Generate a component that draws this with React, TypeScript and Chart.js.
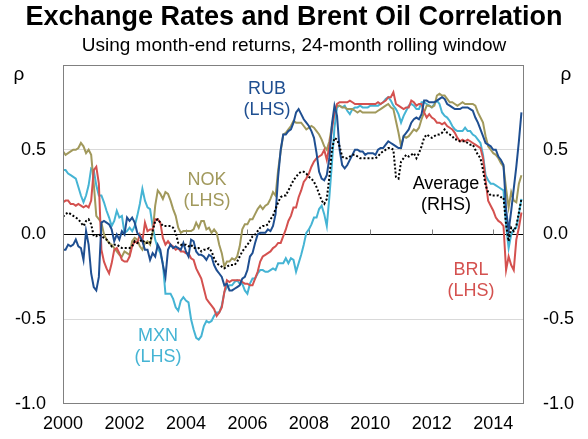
import React, { useEffect, useRef } from "react";
import { Chart, registerables } from "chart.js";

Chart.register(...registerables);

// ---------- data (monthly, Jan 2000 onwards) ----------
const startYear = 2000;
const yearTicks = [2000, 2002, 2004, 2006, 2008, 2010, 2012, 2014];
const valueTicks = [-1, -0.5, 0, 0.5, 1];

const rub = [
  -0.09, -0.09, -0.06, -0.07, -0.06, -0.03, -0.07, -0.08, -0.15, 0.02,
  -0.06, -0.23, -0.31, -0.33, -0.25, 0.07, 0.08, 0.07, 0.06, 0.03,
  -0.04, 0.0, -0.03, 0.02, 0.0, 0.1, 0.08, 0.1, 0.07, 0.01,
  -0.01, -0.04, -0.09, -0.09, -0.15, -0.11, -0.13, -0.06, -0.09, -0.18,
  -0.25, -0.09, -0.06, -0.08, -0.07, -0.08, -0.09, -0.05, -0.1, -0.13,
  -0.03, -0.04, -0.1, -0.12, -0.12, -0.13, -0.15, -0.12, -0.13, -0.18,
  -0.21, -0.23, -0.25, -0.3, -0.29, -0.33, -0.33, -0.32, -0.31, -0.3,
  -0.26, -0.25, -0.21, -0.13, -0.11, -0.05, 0.0, 0.01, 0.01, 0.01,
  0.03, 0.02, 0.05, 0.12, 0.34, 0.5, 0.59, 0.59, 0.61, 0.62,
  0.66, 0.72, 0.74, 0.71, 0.68, 0.66, 0.64, 0.61, 0.57, 0.48,
  0.37, 0.33, 0.32, 0.35, 0.45, 0.65, 0.76, 0.7, 0.5, 0.41,
  0.39, 0.41, 0.44, 0.47, 0.5, 0.5, 0.49, 0.49, 0.47, 0.48,
  0.48, 0.48, 0.47, 0.5, 0.51, 0.51, 0.53, 0.55, 0.54, 0.53,
  0.52, 0.51, 0.51, 0.58, 0.6, 0.62, 0.66, 0.68, 0.69, 0.68,
  0.71, 0.79, 0.79, 0.78, 0.78, 0.78, 0.79, 0.8, 0.81, 0.8,
  0.77, 0.76, 0.75, 0.74, 0.74, 0.74, 0.75, 0.75, 0.75, 0.74,
  0.73, 0.69, 0.66, 0.62, 0.58, 0.54, 0.53, 0.52, 0.5, 0.5,
  0.46, 0.44, 0.41, 0.15, 0.02, 0.14, 0.27, 0.4, 0.55, 0.72,
];

const nok = [
  0.49, 0.47, 0.48, 0.49, 0.5, 0.5, 0.51, 0.54, 0.52, 0.48,
  0.5, 0.47, 0.3, 0.11, 0.09, 0.07, 0.0, -0.03, -0.05, -0.06,
  -0.08, -0.1, -0.12, -0.13, -0.1, -0.11, -0.12, -0.04, -0.02, -0.03,
  -0.07, -0.09, -0.05, -0.04, -0.06, 0.01, 0.17, 0.26, 0.24, 0.21,
  0.25, 0.24, 0.2, 0.15, 0.11, 0.04, 0.01, 0.02, 0.02, 0.02,
  0.02, 0.03, 0.07, 0.04, 0.08, 0.08, 0.03, 0.04, 0.01, 0.03,
  0.01, -0.06, -0.11, -0.19, -0.16, -0.16, -0.14, -0.15, -0.13, -0.07,
  0.03, 0.06, 0.06, 0.09, 0.09, 0.12, 0.15, 0.17, 0.15, 0.17,
  0.18, 0.21, 0.25, 0.23, 0.38, 0.49, 0.59, 0.6, 0.62, 0.64,
  0.67, 0.66, 0.66, 0.66, 0.64, 0.62, 0.63, 0.64, 0.63, 0.61,
  0.59, 0.56, 0.52, 0.5, 0.55, 0.64, 0.72, 0.76, 0.76, 0.75,
  0.75, 0.74, 0.74, 0.74, 0.73, 0.72, 0.73, 0.72, 0.72, 0.72,
  0.72, 0.72, 0.72, 0.73, 0.74, 0.75, 0.76, 0.77, 0.75, 0.74,
  0.67, 0.6, 0.52, 0.58, 0.57, 0.58, 0.6, 0.62, 0.61, 0.63,
  0.68, 0.72, 0.76, 0.76, 0.75, 0.76, 0.82, 0.83, 0.82, 0.82,
  0.8, 0.78, 0.78, 0.77, 0.76, 0.77, 0.78, 0.77, 0.77, 0.77,
  0.77, 0.76, 0.72, 0.69, 0.66, 0.58, 0.52, 0.5, 0.48, 0.47,
  0.45, 0.42, 0.4, 0.27, 0.16, 0.25, 0.2, 0.19, 0.3, 0.35,
];

const mxn = [
  0.38, 0.38, 0.36, 0.35, 0.34, 0.33, 0.28, 0.23, 0.19, 0.23,
  0.29, 0.39, 0.38, 0.29, 0.23, 0.23, 0.19, 0.14, 0.1, 0.05,
  0.08, 0.14, 0.1, 0.11, 0.01, 0.02, 0.04, 0.02, 0.05, 0.11,
  0.18, 0.27, 0.2, 0.16, 0.15, 0.05, -0.03, -0.08, -0.11, -0.17,
  -0.35, -0.35, -0.35, -0.38, -0.43, -0.45, -0.39, -0.37, -0.39, -0.4,
  -0.5, -0.56, -0.61, -0.62, -0.6, -0.54, -0.51, -0.52, -0.51, -0.48,
  -0.46, -0.46, -0.42, -0.34, -0.31, -0.3, -0.3, -0.28, -0.27, -0.29,
  -0.29, -0.33, -0.35, -0.29, -0.26, -0.26, -0.23, -0.21, -0.21, -0.22,
  -0.22, -0.21, -0.2, -0.21, -0.17, -0.17, -0.17, -0.14, -0.17, -0.14,
  -0.15, -0.22, -0.17, -0.12, -0.06, 0.01, 0.03, 0.06, 0.1, 0.1,
  0.15, 0.17, 0.12, 0.05, 0.22, 0.42, 0.63, 0.75, 0.76, 0.75,
  0.76, 0.73, 0.71, 0.74, 0.75, 0.75, 0.76, 0.75, 0.75, 0.75,
  0.76, 0.76, 0.76, 0.76, 0.77, 0.78, 0.8, 0.81, 0.79, 0.76,
  0.74, 0.71, 0.66, 0.7, 0.73, 0.76, 0.77, 0.76, 0.74, 0.74,
  0.78, 0.78, 0.77, 0.76, 0.75, 0.77, 0.79, 0.77, 0.72, 0.7,
  0.69, 0.67, 0.64, 0.62, 0.61, 0.61, 0.61, 0.63, 0.61, 0.61,
  0.59, 0.58, 0.56, 0.54, 0.47, 0.35, 0.32, 0.3, 0.3, 0.29,
  0.28, 0.27, 0.26, 0.05, -0.08, 0.0, 0.03, 0.04, 0.12, 0.21,
];

const brl = [
  0.19, 0.2, 0.2, 0.18, 0.18, 0.17, 0.18, 0.17, 0.16, 0.17,
  0.16, 0.2, 0.38, 0.4, 0.3, -0.09, -0.16, -0.2, -0.23, -0.17,
  -0.09, -0.08, -0.11, -0.15, -0.16, -0.16, -0.13, -0.07, -0.04, -0.05,
  0.0, -0.04, 0.07, 0.02, 0.03, 0.03, 0.09, 0.09, 0.07, -0.02,
  -0.06, -0.04, -0.06, -0.07, -0.09, -0.08, -0.1, -0.1, -0.11, -0.11,
  -0.14, -0.15, -0.2, -0.23, -0.26, -0.32, -0.38, -0.4, -0.42, -0.44,
  -0.48, -0.46, -0.43, -0.34, -0.27, -0.28, -0.27, -0.27, -0.27, -0.27,
  -0.28, -0.29, -0.29, -0.3, -0.3, -0.26, -0.22, -0.16, -0.13, -0.12,
  -0.11, -0.1, -0.08, -0.07, -0.05, -0.05, -0.01, 0.03, 0.08, 0.11,
  0.16, 0.16, 0.22, 0.26, 0.31, 0.33, 0.36, 0.4, 0.43, 0.45,
  0.46, 0.47, 0.5, 0.44, 0.52, 0.62, 0.72, 0.77, 0.78, 0.78,
  0.78, 0.78, 0.79, 0.78, 0.77, 0.77, 0.77, 0.77, 0.77, 0.77,
  0.77, 0.77, 0.77, 0.78, 0.77, 0.78, 0.79, 0.81, 0.81, 0.84,
  0.77, 0.76, 0.75, 0.74, 0.75, 0.75, 0.79, 0.78, 0.76, 0.77,
  0.77, 0.72, 0.69, 0.71, 0.69, 0.68, 0.66, 0.66, 0.65, 0.66,
  0.64, 0.63, 0.62, 0.6, 0.57, 0.55, 0.56, 0.55, 0.56, 0.55,
  0.54, 0.53, 0.52, 0.51, 0.45, 0.32, 0.2, 0.17, 0.14, 0.1,
  0.08, 0.07, 0.05, -0.21, -0.13, -0.18, -0.21, -0.03, 0.04, 0.13,
];

const average = [
  0.105, 0.12, 0.13, 0.12, 0.11, 0.1, 0.09, 0.07, 0.05, 0.08,
  0.09, 0.06, -0.01, -0.01, 0.0, -0.01, -0.02, -0.03, -0.05, -0.07,
  -0.06, -0.06, -0.07, -0.08, -0.08, -0.08, -0.08, -0.07, -0.04, -0.05,
  -0.04, -0.03, -0.05, -0.05, -0.05, 0.02, 0.08, 0.09, 0.07, 0.05,
  0.05, 0.05, 0.05, 0.04, 0.01, -0.05, -0.06, -0.06, -0.06, -0.07,
  -0.06, -0.08, -0.08, -0.08, -0.1, -0.09, -0.09, -0.08, -0.1, -0.14,
  -0.17, -0.18, -0.19, -0.2, -0.19, -0.18, -0.18, -0.18, -0.16, -0.13,
  -0.1, -0.08, -0.06, -0.04, -0.01, 0.0, 0.02, 0.04, 0.05, 0.05,
  0.06, 0.09, 0.11, 0.15, 0.19, 0.22, 0.23, 0.23, 0.26, 0.29,
  0.32, 0.34, 0.36, 0.37, 0.37, 0.36, 0.34, 0.33, 0.31, 0.28,
  0.24, 0.2, 0.18, 0.21, 0.34, 0.5, 0.57, 0.56, 0.52, 0.46,
  0.45, 0.45, 0.46, 0.47, 0.47, 0.46, 0.45, 0.45, 0.45, 0.45,
  0.45, 0.45, 0.45, 0.46, 0.48, 0.49, 0.5, 0.51, 0.51, 0.5,
  0.34, 0.33, 0.43, 0.45, 0.47, 0.46, 0.47, 0.48, 0.45, 0.48,
  0.52, 0.57, 0.59, 0.58, 0.57, 0.58, 0.59, 0.59, 0.6, 0.62,
  0.6, 0.59, 0.58, 0.56, 0.56, 0.55, 0.55, 0.55, 0.54, 0.53,
  0.53, 0.5, 0.47, 0.45, 0.38, 0.29, 0.25, 0.23, 0.23, 0.23,
  0.23, 0.22, 0.22, 0.06, -0.04, 0.04, 0.02, 0.05, 0.13, 0.21,
];

// month positions in decimal years
const months = rub.map((_, i) => startYear + i / 12);

// ---------- styling ----------
const FONT = "'Liberation Sans', Arial, Helvetica, sans-serif";
const C_RUB = "#1f4f91";
const C_NOK = "#a1995c";
const C_MXN = "#45b4d4";
const C_BRL = "#d4514f";
const C_AVG = "#000000";

const W = 588;
const H = 439;

const labels = [
  { lines: ["RUB", "(LHS)"], x: 267, y: 89, color: C_RUB },
  { lines: ["NOK", "(LHS)"], x: 207, y: 180, color: C_NOK },
  { lines: ["Average", "(RHS)"], x: 446, y: 184, color: "#000" },
  { lines: ["BRL", "(LHS)"], x: 471, y: 270, color: C_BRL },
  { lines: ["MXN", "(LHS)"], x: 158, y: 336, color: C_MXN },
];

const toPoints = (vals: number[]) => vals.map((v, i) => ({ x: months[i], y: v }));

const overlayPlugin = {
  id: "overlay",
  beforeDatasetsDraw(chart: any) {
    const { ctx, scales } = chart;
    const y0 = scales.y.getPixelForValue(0);
    ctx.save();
    ctx.strokeStyle = "#7f7f7f";
    ctx.lineWidth = 1;
    for (const yr of yearTicks) {
      if (yr === startYear) continue;
      const x = Math.round(scales.x.getPixelForValue(yr)) + 0.5;
      ctx.beginPath();
      ctx.moveTo(x, y0);
      ctx.lineTo(x, y0 - 5);
      ctx.stroke();
    }
    ctx.restore();
  },
  afterDatasetsDraw(chart: any) {
    const { ctx, chartArea } = chart;
    ctx.save();
    ctx.strokeStyle = "#808080";
    ctx.lineWidth = 1;
    ctx.strokeRect(
      Math.round(chartArea.left) + 0.5,
      Math.round(chartArea.top) + 0.5,
      Math.round(chartArea.right - chartArea.left) - 1,
      Math.round(chartArea.bottom - chartArea.top) - 1
    );
    ctx.restore();
  },
  afterDraw(chart: any) {
    const { ctx } = chart;
    ctx.save();
    ctx.textAlign = "center";
    ctx.textBaseline = "middle";
    ctx.fillStyle = "#000";
    ctx.font = `bold 27px ${FONT}`;
    ctx.fillText("Exchange Rates and Brent Oil Correlation", W / 2, 18);
    ctx.font = `19px ${FONT}`;
    ctx.fillText("Using month-end returns, 24-month rolling window", W / 2, 46);
    ctx.textBaseline = "alphabetic";
    ctx.fillText("ρ", 19, 80);
    ctx.fillText("ρ", 566, 80);
    ctx.textBaseline = "middle";
    ctx.font = `18px ${FONT}`;
    for (const l of labels) {
      ctx.fillStyle = l.color;
      l.lines.forEach((t, i) => ctx.fillText(t, l.x, l.y + i * 21));
    }
    ctx.restore();
  },
};

export default function App() {
  const ref = useRef<HTMLCanvasElement | null>(null);

  useEffect(() => {
    if (!ref.current) return;
    const tickFont = { family: FONT, size: 18 };
    const chart = new Chart(ref.current, {
      type: "line",
      data: {
        datasets: [
          { label: "Average (RHS)", data: toPoints(average), yAxisID: "y2", borderColor: C_AVG, borderWidth: 2, borderDash: [2, 2], pointRadius: 0, tension: 0 },
          { label: "RUB (LHS)", data: toPoints(rub), yAxisID: "y", borderColor: C_RUB, borderWidth: 2, pointRadius: 0, tension: 0 },
          { label: "BRL (LHS)", data: toPoints(brl), yAxisID: "y", borderColor: C_BRL, borderWidth: 2, pointRadius: 0, tension: 0 },
          { label: "NOK (LHS)", data: toPoints(nok), yAxisID: "y", borderColor: C_NOK, borderWidth: 2, pointRadius: 0, tension: 0 },
          { label: "MXN (LHS)", data: toPoints(mxn), yAxisID: "y", borderColor: C_MXN, borderWidth: 2, pointRadius: 0, tension: 0 },
        ],
      },
      options: {
        responsive: false,
        animation: false,
        devicePixelRatio: 1,
        layout: { padding: { top: 65, left: 0, right: 0, bottom: 0 } },
        plugins: { legend: { display: false }, tooltip: { enabled: false }, title: { display: false } },
        scales: {
          x: {
            type: "linear",
            min: 2000,
            max: 2015,
            afterBuildTicks: (s: any) => { s.ticks = yearTicks.map((v) => ({ value: v })); },
            afterFit: (s: any) => { s.height = 35; },
            grid: { display: false, drawTicks: false },
            border: { display: false },
            ticks: { font: tickFont, color: "#000", padding: 9, maxRotation: 0, autoSkip: false, callback: (v: any) => String(v) },
          },
          y: {
            position: "left",
            min: -1,
            max: 1,
            afterBuildTicks: (s: any) => { s.ticks = valueTicks.map((v) => ({ value: v })); },
            afterFit: (s: any) => { s.width = 63; },
            grid: {
              drawTicks: false,
              color: (c: any) => (c.tick && c.tick.value === 0 ? "#000000" : Math.abs(c.tick?.value) === 1 ? "rgba(0,0,0,0)" : "#d9d9d9"),
              lineWidth: 1,
            },
            border: { display: false },
            ticks: { font: tickFont, color: "#000", padding: 17, callback: (v: any) => (v === 1 ? "" : Number(v).toFixed(1)) },
          },
          y2: {
            position: "right",
            min: -1,
            max: 1,
            afterBuildTicks: (s: any) => { s.ticks = valueTicks.map((v) => ({ value: v })); },
            afterFit: (s: any) => { s.width = 64; },
            grid: { display: false, drawTicks: false },
            border: { display: false },
            ticks: { font: tickFont, color: "#000", padding: 19, callback: (v: any) => (v === 1 ? "" : Number(v).toFixed(1)) },
          },
        },
      },
      plugins: [overlayPlugin],
    } as any);
    return () => chart.destroy();
  }, []);

  return (
    <div style={{ position: "absolute", left: 0, top: 0, width: W, height: H, background: "#fff" }}>
      <canvas ref={ref} width={W} height={H} style={{ width: W, height: H, display: "block" }} />
    </div>
  );
}
